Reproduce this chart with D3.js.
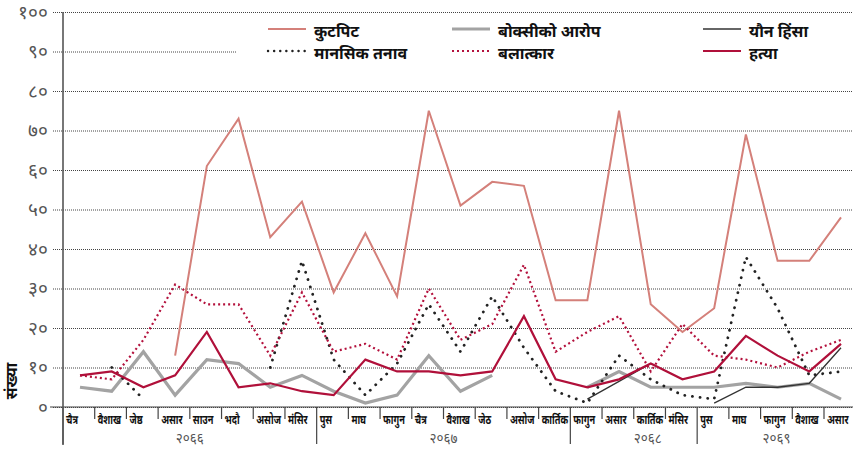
<!DOCTYPE html>
<html>
<head>
<meta charset="utf-8">
<script src="https://cdn.jsdelivr.net/npm/d3@7"></script>
<style>
  body { margin: 0; background: #fff; }
  svg { display: block; font-family: "Noto Sans Devanagari", "Lohit Devanagari", "Noto Sans", sans-serif; }
</style>
</head>
<body>
<div id="main"></div>
<script>
// month labels along the x axis
var months = ["चैत्र", "वैशाख", "जेष्ठ", "असार", "साउन", "भदौ", "असोज", "मंसिर", "पुस",
    "माघ", "फागुन", "चैत्र", "वैशाख", "जेठ", "असोज", "कार्तिक",
    "फागुन", "असार", "कार्तिक", "मंसिर",
    "पुस", "माघ", "फागुन", "वैशाख", "असार"];
var yearLabels = ["२०६६", "२०६७", "२०६८", "२०६९"];
var yearStarts = [0, 8, 16, 20]; // index of first month of each year group

var seriesNames = ["कुटपिट", "बोक्सीको आरोप", "यौन हिंसा", "मानसिक तनाव", "बलात्कार", "हत्या"];
var kutpit   = [null, null, null, 13, 61, 73, 43, 52, 29, 44, 28, 75, 51, 57, 56, 27, 27, 75, 26, 19, 25, 69, 37, 37, 48];
var boksi    = [5, 4, 14, 3, 12, 11, 5, 8, 4, 1, 3, 13, 4, 8, null, null, 5, 9, 5, 5, 5, 6, 5, 6, 2];
var yaun     = [null, null, null, null, null, null, null, null, null, null, null, null, null, null, null, null, 2, 6.5, 11, null, 1, 5, 5, 6, 15];
var manasik  = [null, 10, 2, null, null, null, 10, 37, 12, 3, 11, 26, 14, 28, 15, 4, 1, 13, 7, 3, 2, 38, 25, 8, 9];
var balatkar = [8, 7, 17, 31, 26, 26, 13, 29, 14, 16, 12, 30, 17, 21, 36, 14, 19, 23, 9, 21, 13, 12, 10, 14, 17];
var hatya    = [8, 9, 5, 8, 19, 5, 6, 4, 3, 12, 9, 9, 8, 9, 23, 7, 5, 7, 11, 7, 9, 18, 13, 9, 16];
var yTicks = [0, 10, 20, 30, 40, 50, 60, 70, 80, 90, 100];

var width = 853, height = 449;
var toNepali = function (n) {
    var digits = "०१२३४५६७८९";
    return String(n).replace(/[0-9]/g, function (c) { return digits[+c]; });
};

var svg = d3.select("#main").append("svg")
    .attr("width", width)
    .attr("height", height);

var x = d3.scalePoint().domain(d3.range(months.length)).range([80, 841]);
var step = x.step();
var tickX = function (i) { return x(i) - 17; };
var y = d3.scaleLinear().domain([0, 100]).range([407, 12]);

// dotted gridlines + y labels
var yAxis = d3.axisLeft(y).tickValues(yTicks).tickSize(-800).tickFormat(toNepali).tickPadding(5);
var gy = svg.append("g").attr("transform", "translate(53,0)").call(yAxis);
gy.select(".domain").remove();
gy.selectAll(".tick line")
    .attr("stroke", "#444")
    .attr("stroke-width", 1)
    .attr("stroke-dasharray", "1,1");
gy.selectAll(".tick text")
    .attr("fill", "#555")
    .attr("font-size", 19);

// x axis baseline
svg.append("line")
    .attr("x1", 50).attr("x2", width)
    .attr("y1", y(0)).attr("y2", y(0))
    .attr("stroke", "#444").attr("stroke-width", 1.2);

// month ticks and labels
var gx = svg.append("g");
months.forEach(function (m, i) {
    var tx = tickX(i);
    var isYear = yearStarts.indexOf(i) >= 0;
    gx.append("line")
        .attr("x1", tx).attr("x2", tx)
        .attr("y1", y(0)).attr("y2", isYear ? 444 : 419)
        .attr("stroke", "#444").attr("stroke-width", 1.2);
    gx.append("text")
        .attr("transform", "translate(" + (tx + 3) + ",424) scale(0.74,1)")
        .attr("font-size", 12.5).attr("font-weight", "bold")
        .attr("fill", "#111")
        .text(m);
});

// year group labels
yearLabels.forEach(function (lab, k) {
    var s = tickX(yearStarts[k]);
    var e = k < yearStarts.length - 1 ? tickX(yearStarts[k + 1]) : tickX(months.length - 1) + step;
    svg.append("text")
        .attr("x", (s + e) / 2 + (k == 2 ? 14 : 0)).attr("y", 442.5)
        .attr("text-anchor", "middle")
        .attr("font-size", 13.5).attr("fill", "#555")
        .text(lab);
});

// y axis line
svg.append("line")
    .attr("x1", 63).attr("x2", 63)
    .attr("y1", 12).attr("y2", 445)
    .attr("stroke", "#555").attr("stroke-width", 1.6);

// y title
svg.append("text")
    .attr("transform", "translate(17,381) rotate(-90)")
    .attr("text-anchor", "middle")
    .attr("font-size", 16).attr("font-weight", "bold")
    .attr("fill", "#111")
    .text("संख्या");

// legend background hides part of the grid
svg.append("rect")
    .attr("x", 237).attr("y", 20)
    .attr("width", width - 237).attr("height", 48)
    .attr("fill", "#fff");

var styles = [
    { data: kutpit,   color: "#d4807a", w: 2,   dash: null,       cap: "butt" },
    { data: boksi,    color: "#a3a3a3", w: 3.2, dash: null,       cap: "butt" },
    { data: yaun,     color: "#333333", w: 1.3, dash: null,       cap: "butt" },
    { data: manasik,  color: "#222222", w: 2.8, dash: "0.1,7.6",  cap: "round" },
    { data: balatkar, color: "#b3103c", w: 2.2, dash: "2,3",      cap: "butt" },
    { data: hatya,    color: "#b0103a", w: 2.2, dash: null,       cap: "butt" }
];

var line = d3.line()
    .defined(function (d) { return d != null; })
    .x(function (d, i) { return x(i); })
    .y(function (d) { return y(d); });

// draw order: grey first, then others
[1, 2, 0, 3, 4, 5].forEach(function (k) {
    var s = styles[k];
    svg.append("path")
        .datum(s.data)
        .attr("d", line)
        .attr("fill", "none")
        .attr("stroke", s.color)
        .attr("stroke-width", s.w)
        .attr("stroke-linecap", s.cap)
        .attr("stroke-linejoin", "miter")
        .attr("stroke-dasharray", s.dash);
});

// legend
var legendPos = [
    { lx: 268, ty: 29 }, { lx: 452, ty: 29 }, { lx: 703, ty: 29 },
    { lx: 268, ty: 51 }, { lx: 452, ty: 51 }, { lx: 703, ty: 51 }
];
seriesNames.forEach(function (name, k) {
    var p = legendPos[k], s = styles[k];
    svg.append("line")
        .attr("x1", p.lx).attr("x2", p.lx + 38)
        .attr("y1", p.ty).attr("y2", p.ty)
        .attr("stroke", s.color)
        .attr("stroke-width", k == 3 ? 2.4 : s.w)
        .attr("stroke-linecap", s.cap)
        .attr("stroke-dasharray", k == 3 ? "0.1,6" : s.dash);
    svg.append("text")
        .attr("x", p.lx + 46).attr("y", p.ty + 8)
        .attr("font-size", 16).attr("font-weight", "bold")
        .attr("fill", "#111")
        .text(name);
});
</script>
</body>
</html>
